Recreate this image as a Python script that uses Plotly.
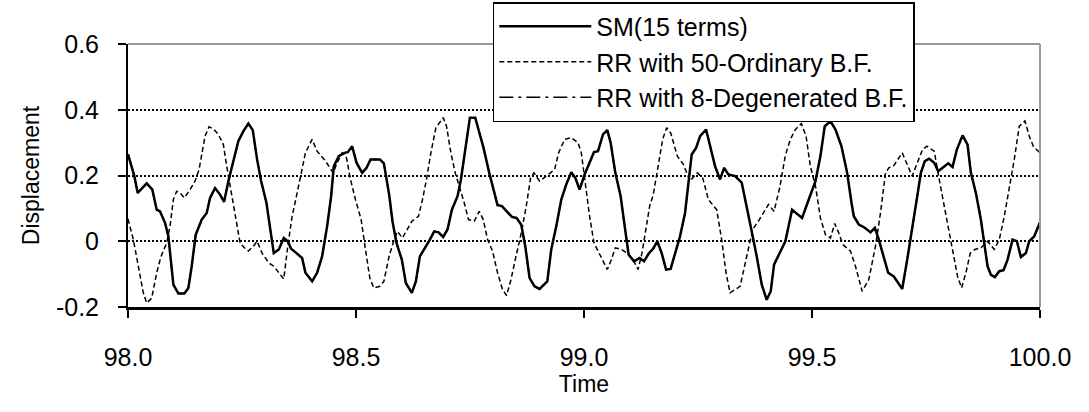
import plotly.graph_objects as go

# ---- data ----
sm_time = [98.0, 98.0139, 98.0212, 98.041, 98.0534, 98.0629, 98.0702, 98.0812, 98.0885, 98.0995,
           98.1105, 98.1236, 98.1324, 98.1397, 98.1485, 98.1617, 98.1726, 98.18, 98.1909, 98.2019,
           98.2107, 98.2202, 98.2311, 98.2421, 98.2531, 98.264, 98.2736, 98.2831, 98.2919, 98.3036,
           98.311, 98.3197, 98.3307, 98.3416, 98.3504, 98.3577, 98.3694, 98.3818, 98.3891, 98.4038,
           98.4147, 98.4257, 98.4367, 98.4455, 98.4513, 98.4623, 98.4747, 98.482, 98.4916, 98.5011,
           98.5135, 98.523, 98.5318, 98.5523, 98.5611, 98.5727, 98.58, 98.5888, 98.6005, 98.6093,
           98.6225, 98.6313, 98.6401, 98.6517, 98.662, 98.6715, 98.681, 98.6912, 98.7007, 98.7103,
           98.7227, 98.7301, 98.7395, 98.7498, 98.7615, 98.7703, 98.7797, 98.7922, 98.801, 98.8104,
           98.82, 98.8302, 98.8419, 98.852, 98.8624, 98.8712, 98.8807, 98.8916, 98.9026, 98.9195,
           98.9282, 98.9392, 98.9502, 98.9611, 98.9721, 98.9809, 98.9904, 99.0013, 99.0123, 99.0219,
           99.0307, 99.0417, 99.0511, 99.0584, 99.0687, 99.0804, 99.0892, 99.0979, 99.1097, 99.122,
           99.1316, 99.1426, 99.152, 99.1608, 99.1703, 99.18, 99.19, 99.1997, 99.2106, 99.2216,
           99.2289, 99.2362, 99.2458, 99.2546, 99.2677, 99.2765, 99.2875, 99.2984, 99.3072, 99.3167,
           99.3313, 99.3459, 99.3569, 99.3678, 99.3788, 99.3898, 99.4007, 99.4095, 99.4168, 99.4285,
           99.4416, 99.4563, 99.4783, 99.4929, 99.5076, 99.5185, 99.528, 99.5405, 99.5515, 99.5646,
           99.5771, 99.5866, 99.5917, 99.6026, 99.6158, 99.6283, 99.6378, 99.6465, 99.6575, 99.6671,
           99.6794, 99.6978, 99.7088, 99.7197, 99.7314, 99.7387, 99.7475, 99.757, 99.768, 99.7768,
           99.7885, 99.7987, 99.8082, 99.8177, 99.8302, 99.8411, 99.8484, 99.8594, 99.8703, 99.8777,
           99.885, 99.8923, 99.9011, 99.9107, 99.9201, 99.9289, 99.9398, 99.9493, 99.9581, 99.9691,
           99.9764, 99.9874, 100.0]
sm_disp = [0.265, 0.198, 0.147, 0.176, 0.157, 0.096, 0.091, 0.056, 0.015, -0.132,
           -0.159, -0.159, -0.142, -0.076, 0.020, 0.066, 0.086, 0.132, 0.162, 0.142,
           0.120, 0.183, 0.244, 0.305, 0.335, 0.358, 0.338, 0.249, 0.183, 0.117,
           0.046, -0.036, -0.025, 0.010, 0.000, -0.023, -0.036, -0.051, -0.096, -0.122,
           -0.096, -0.046, 0.046, 0.137, 0.228, 0.259, 0.269, 0.271, 0.289, 0.239,
           0.208, 0.223, 0.249, 0.249, 0.237, 0.142, 0.061, -0.005, -0.056, -0.127,
           -0.157, -0.122, -0.046, -0.020, 0.005, 0.030, 0.027, 0.013, 0.036, 0.096,
           0.137, 0.188, 0.279, 0.376, 0.376, 0.330, 0.284, 0.208, 0.157, 0.110,
           0.107, 0.091, 0.074, 0.071, 0.050, -0.015, -0.112, -0.137, -0.145, -0.122,
           -0.025, 0.046, 0.127, 0.173, 0.210, 0.193, 0.157, 0.203, 0.239, 0.271,
           0.274, 0.325, 0.338, 0.300, 0.208, 0.137, 0.046, -0.041, -0.061, -0.051,
           -0.061, -0.036, -0.022, 0.000, -0.036, -0.086, -0.084, -0.036, 0.015, 0.086,
           0.168, 0.264, 0.284, 0.320, 0.340, 0.289, 0.228, 0.188, 0.223, 0.203,
           0.198, 0.178, 0.107, 0.030, -0.046, -0.132, -0.178, -0.152, -0.071, -0.036,
           0.000, 0.096, 0.071, 0.127, 0.183, 0.259, 0.350, 0.365, 0.340, 0.289,
           0.208, 0.117, 0.076, 0.051, 0.041, 0.027, 0.041, 0.005, -0.046, -0.096,
           -0.107, -0.145, -0.056, 0.046, 0.142, 0.208, 0.244, 0.251, 0.239, 0.213,
           0.226, 0.237, 0.226, 0.279, 0.322, 0.294, 0.208, 0.147, 0.066, -0.005,
           -0.076, -0.102, -0.109, -0.091, -0.088, -0.056, 0.005, 0.000, -0.048, -0.036,
           0.000, 0.015, 0.058]

rr50_time = [98.0, 98.0117, 98.0227, 98.0336, 98.041, 98.0519, 98.0629, 98.0724, 98.0849, 98.0922,
             98.0995, 98.1068, 98.1141, 98.1236, 98.1361, 98.147, 98.1558, 98.169, 98.1777, 98.1873,
             98.1982, 98.2092, 98.2165, 98.2238, 98.2348, 98.2458, 98.2553, 98.264, 98.275, 98.2831,
             98.294, 98.3087, 98.3197, 98.3307, 98.3416, 98.3504, 98.3599, 98.3694, 98.3796, 98.3891,
             98.4038, 98.4147, 98.433, 98.4499, 98.4586, 98.4696, 98.4791, 98.4879, 98.4988, 98.5113,
             98.5208, 98.5303, 98.5391, 98.5523, 98.5611, 98.5727, 98.5837, 98.591, 98.6019, 98.6129,
             98.6225, 98.637, 98.6458, 98.6546, 98.6642, 98.6752, 98.6825, 98.6912, 98.6985, 98.7081,
             98.7176, 98.7264, 98.7373, 98.7468, 98.7593, 98.7703, 98.779, 98.7885, 98.7995, 98.8104,
             98.8214, 98.8302, 98.8398, 98.8508, 98.8624, 98.8734, 98.8829, 98.8902, 98.9026, 98.9173,
             98.9355, 98.9443, 98.9575, 98.9721, 98.9868, 98.9941, 99.0029, 99.0123, 99.0219, 99.0343,
             99.0511, 99.0599, 99.0687, 99.0818, 99.095, 99.1075, 99.1185, 99.1272, 99.1367, 99.144,
             99.152, 99.163, 99.1725, 99.1812, 99.19, 99.2047, 99.2179, 99.2325, 99.2485, 99.2602,
             99.2727, 99.291, 99.3019, 99.3115, 99.3203, 99.3423, 99.3555, 99.37, 99.3847, 99.4044,
             99.4168, 99.43, 99.4416, 99.4526, 99.4635, 99.4767, 99.487, 99.4964, 99.5076, 99.5185,
             99.5295, 99.5405, 99.5499, 99.5587, 99.5675, 99.5844, 99.5953, 99.61, 99.6245, 99.6392,
             99.6502, 99.6612, 99.6685, 99.6794, 99.6978, 99.7088, 99.7197, 99.7314, 99.7424, 99.7519,
             99.768, 99.779, 99.79, 99.8009, 99.8119, 99.8192, 99.828, 99.8375, 99.8471, 99.8572,
             99.8703, 99.885, 99.8997, 99.9107, 99.9217, 99.9326, 99.9436, 99.9546, 99.9669, 99.9764,
             99.9859, 100.0]
rr50_disp = [0.068, 0.005, -0.076, -0.157, -0.188, -0.173, -0.096, -0.046, -0.005, 0.046,
             0.127, 0.152, 0.147, 0.132, 0.157, 0.183, 0.218, 0.320, 0.348, 0.342,
             0.325, 0.294, 0.228, 0.168, 0.076, -0.005, -0.020, -0.030, -0.015, 0.000,
             -0.036, -0.066, -0.076, -0.096, -0.115, -0.015, 0.076, 0.137, 0.208, 0.269,
             0.310, 0.274, 0.244, 0.208, 0.239, 0.269, 0.254, 0.188, 0.127, 0.066,
             -0.025, -0.112, -0.142, -0.137, -0.122, -0.045, 0.005, 0.030, 0.010, 0.036,
             0.061, 0.076, 0.127, 0.188, 0.269, 0.345, 0.360, 0.376, 0.350, 0.269,
             0.208, 0.168, 0.117, 0.066, 0.061, 0.091, 0.066, 0.005, -0.030, -0.096,
             -0.147, -0.165, -0.117, -0.046, 0.025, 0.107, 0.193, 0.208, 0.183, 0.198,
             0.218, 0.269, 0.310, 0.315, 0.300, 0.269, 0.178, 0.076, -0.005, -0.041,
             -0.086, -0.056, -0.020, -0.025, -0.036, -0.056, -0.086, -0.036, 0.046, 0.107,
             0.142, 0.228, 0.310, 0.345, 0.330, 0.259, 0.234, 0.183, 0.208, 0.193,
             0.127, 0.096, 0.005, -0.096, -0.157, -0.137, -0.056, 0.036, 0.066, 0.112,
             0.091, 0.168, 0.262, 0.310, 0.340, 0.358, 0.320, 0.228, 0.168, 0.071,
             0.020, 0.010, 0.054, 0.025, -0.010, -0.030, -0.076, -0.152, -0.117, -0.015,
             0.086, 0.208, 0.223, 0.230, 0.269, 0.234, 0.198, 0.240, 0.279, 0.289,
             0.274, 0.188, 0.107, 0.025, -0.056, -0.107, -0.142, -0.096, -0.036, -0.025,
             -0.020, 0.000, -0.025, 0.005, 0.076, 0.157, 0.249, 0.350, 0.366, 0.320,
             0.287, 0.269]

# RR with 8 degenerated basis functions coincides with the SM curve in the reference
rr8_time = sm_time
rr8_disp = sm_disp

series_names = ["SM(15 terms)", "RR with 50-Ordinary B.F.", "RR with 8-Degenerated B.F."]
x_tick_vals = [98.0, 98.5, 99.0, 99.5, 100.0]
x_tick_text = ["98.0", "98.5", "99.0", "99.5", "100.0"]
y_tick_vals = [-0.2, 0.0, 0.2, 0.4, 0.6]
y_tick_text = ["-0.2", "0", "0.2", "0.4", "0.6"]

FONT = "Liberation Sans, Arial, sans-serif"

fig = go.Figure()
fig.add_trace(go.Scatter(x=sm_time, y=sm_disp, mode="lines", name=series_names[0],
                         line=dict(color="black", width=2.5)))
fig.add_trace(go.Scatter(x=rr50_time, y=rr50_disp, mode="lines", name=series_names[1],
                         line=dict(color="black", width=1.5, dash="5px,3px")))
fig.add_trace(go.Scatter(x=rr8_time, y=rr8_disp, mode="lines", name=series_names[2],
                         line=dict(color="black", width=1.5, dash="14px,5px,3px,5px")))

fig.update_layout(
    width=1089, height=412,
    margin=dict(l=128, r=49, t=44, b=105, autoexpand=False),
    paper_bgcolor="white", plot_bgcolor="white",
    font=dict(family=FONT, color="black", size=24),
    showlegend=True,
    legend=dict(x=0.4, y=0.995, xref="paper", yref="container",
                xanchor="left", yanchor="top",
                bgcolor="white", bordercolor="black", borderwidth=1.5,
                font=dict(size=25, family=FONT, color="black"),
                itemwidth=92, tracegroupgap=0),
    xaxis=dict(range=[98, 100], tickvals=x_tick_vals, ticktext=x_tick_text,
               showline=True, linecolor="black", linewidth=3,
               ticks="outside", ticklen=8, tickwidth=2, tickcolor="black",
               showgrid=False, zeroline=False,
               tickfont=dict(size=25), ticklabelstandoff=18,
               title=dict(text="Time", font=dict(size=23), standoff=6)),
    yaxis=dict(range=[-0.2, 0.6], tickvals=y_tick_vals, ticktext=y_tick_text,
               showline=True, linecolor="black", linewidth=2,
               ticks="outside", ticklen=8, tickwidth=1.5, tickcolor="black",
               showgrid=True, gridcolor="black", gridwidth=1.5, griddash="2px,2px",
               zeroline=False,
               tickfont=dict(size=25), ticklabelstandoff=14,
               title=dict(text="Displacement", font=dict(size=23), standoff=10)),
    shapes=[
        dict(type="line", xref="paper", yref="paper", x0=0, x1=1, y0=1, y1=1,
             line=dict(color="#9a9a9a", width=2)),
        dict(type="line", xref="paper", yref="paper", x0=1, x1=1, y0=0, y1=1,
             line=dict(color="#9a9a9a", width=2)),
    ],
)

fig.write_html("out.html", config={"displayModeBar": False},
               post_script="document.body.style.margin='0';")
